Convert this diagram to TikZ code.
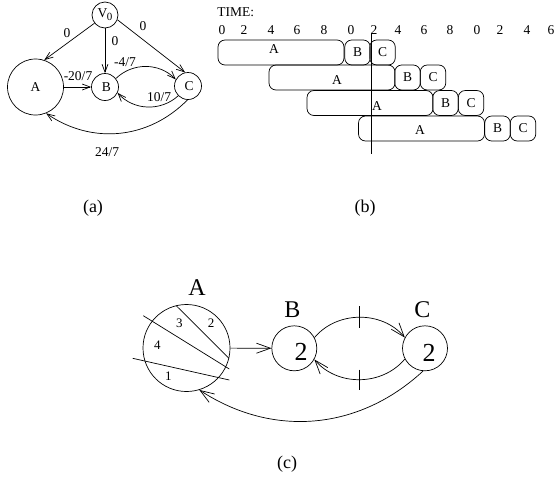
\documentclass[tikz,border=0pt]{standalone}
\usepackage{fontspec}
\setmainfont{Liberation Serif}
\usetikzlibrary{arrows.meta}
\begin{document}
\begin{tikzpicture}[x=1pt,y=-1pt, line width=0.7pt,
  arr/.style={-{Straight Barb[length=8pt,width=6pt]}},
  arrc/.style={-{Straight Barb[length=14pt,width=10pt]}},
  circ/.style={draw,circle,inner sep=0pt},
  lbl/.style={inner sep=0pt, font=\fontsize{13.5}{15}\selectfont},
  txt/.style={inner sep=0pt, font=\fontsize{13.5}{15}\selectfont},
  dig/.style={inner sep=0pt, font=\fontsize{13}{15}\selectfont},
  captext/.style={inner sep=0pt, font=\fontsize{18}{20}\selectfont},
  big/.style={inner sep=0pt, font=\fontsize{24}{26}\selectfont},
  bigtwo/.style={inner sep=0pt, font=\fontsize{26}{28}\selectfont},
  boxa/.style={draw,rounded corners=7pt,minimum height=25pt,minimum width=126pt,inner sep=0pt},
  boxs/.style={draw,rounded corners=7pt,minimum height=25pt,minimum width=25.5pt,inner sep=0pt,font=\fontsize{13.5}{15}\selectfont},
]
\useasboundingbox (0,0) rectangle (556,496);

% ---------------- (a) ----------------
\node[circ, minimum size=26pt, txt] (V0) at (105,15) {V\kern-0.5pt\raisebox{-3pt}{\fontsize{11}{12}\selectfont 0}};
\node[circ, minimum size=56pt, txt] (A) at (35.5,87) {A};
\node[circ, minimum size=27pt, txt] (B) at (105,87) {\hspace{3pt}B};
\node[circ, minimum size=27pt, txt] (C) at (188,86) {\hspace{2pt}C};

\draw[arr] (V0.218) -- (A.72);
\draw[arr] (V0) -- (B);
\draw[arr] (V0.339) -- (C.102);
\draw[arr] (A) -- (B);
\draw[arr] (B.38) to[bend left=45] (C.152);
\draw[arr] (C.225) to[bend left=45] (B.335);
\draw[arr] (C.268) to[bend left=40] (A.292);

\node[lbl] (l1) at (67,33) {0};
\node[lbl] (l2) at (115,41) {0};
\node[lbl] (l3) at (143,26) {0};
\node[lbl] (l4) at (78,76) {-20/7};
\node[lbl] (l5) at (125,62) {-4/7};
\node[lbl] (l6) at (159,97) {10/7};
\node[lbl] (l7) at (107,152) {24/7};

% ---------------- (b) ----------------
\node[txt, anchor=west] (time) at (217,12) {TIME:};
\foreach \x/\n [count=\i] in {222/0,244/2,271/4,297/6,324/8,351/0,374/2,398/4,424/6,450/8,477/0,500/2,527/4,551/6}
  \node[txt] (n\i) at (\x,30) {\n};

\node[boxa] (a1) at (281,52.5) {};
\node[boxs] (b1) at (357.5,52.5) {B};
\node[boxs] (c1) at (382.5,52.5) {C};
\node[txt] (ta1) at (274,49) {A};

\node[boxa] (a2) at (332,77.5) {};
\node[boxs] (b2) at (407.5,77.5) {B};
\node[boxs] (c2) at (433,77.5) {C};
\node[txt] (ta2) at (337,80) {A};

\node[boxa] (a3) at (370,103) {};
\node[boxs] (b3) at (445.5,103) {B};
\node[boxs] (c3) at (471,103) {C};
\node[txt] (ta3) at (377,106) {A};

\node[boxa] (a4) at (421.5,128.5) {};
\node[boxs] (b4) at (497.5,128.5) {B};
\node[boxs] (c4) at (523,128.5) {C};
\node[txt] (ta4) at (420,130) {A};

\coordinate (vt) at (371,33);
\coordinate (vb) at (371,154);
\draw (vt) -- (vb);

\node[captext] (la) at (93,208) {(a)};
\node[captext] (lb) at (365,208) {(b)};

% ---------------- (c) ----------------
\node[circ, minimum size=87pt] (cA) at (186.5,348) {};
\node[circ, minimum size=45pt] (cB) at (294.3,348.3) {};
\node[circ, minimum size=45pt] (cC) at (425,348.3) {};

\node[big] (nA) at (197,288) {A};
\node[big] (nB) at (292.3,310) {B};
\node[big] (nC) at (422.3,310) {C};
\node[bigtwo] (tB) at (301,352) {2};
\node[bigtwo] (tC) at (429,353) {2};

\draw (143.3,315.7) -- (229.3,369);
\draw (176,305.5) -- (229,358.3);
\draw (132.7,358.3) -- (229.3,380);
\node[dig] (d3) at (179.3,323.3) {3};
\node[dig] (d2) at (211,323.3) {2};
\node[dig] (d4) at (157.3,345) {4};
\node[dig] (d1) at (168.3,376) {1};

\draw[arrc] (cA) -- (cB);
\draw[arrc] (cB.28) to[bend left=50] coordinate[pos=0.5] (t1) (cC.152);
\draw[arrc] (cC.208) to[bend left=50] coordinate[pos=0.5] (t2) (cB.331);
\draw ([yshift=11pt]t1) -- ([yshift=-11pt]t1);
\draw ([yshift=10pt]t2) -- ([yshift=-10pt]t2);
\draw[arrc] (cC.265) to[bend left=38] (cA.287);

\node[captext] (lc) at (287,464) {(c)};
\end{tikzpicture}
\end{document}
